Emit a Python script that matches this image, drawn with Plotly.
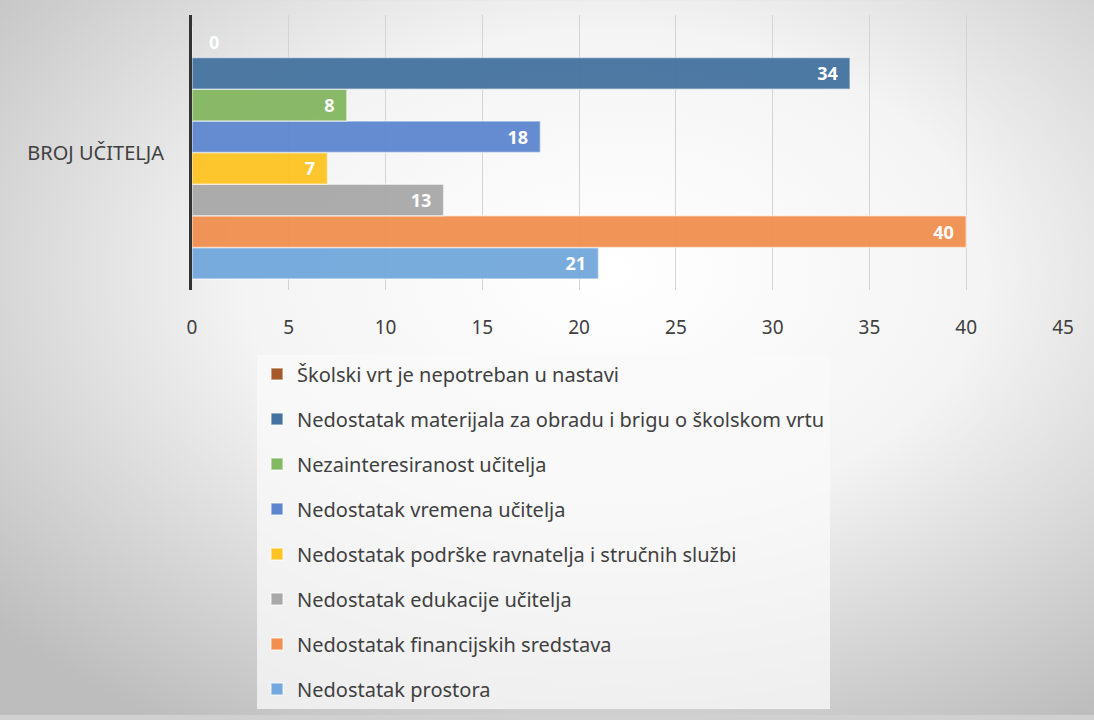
import base64
import plotly.graph_objects as go

category = ["BROJ UČITELJA"]
# listed bottom-to-top (plotly draws first horizontal trace at the bottom)
series_names = [
    "Nedostatak prostora",
    "Nedostatak financijskih sredstava",
    "Nedostatak edukacije učitelja",
    "Nedostatak podrške ravnatelja i stručnih službi",
    "Nedostatak vremena učitelja",
    "Nezainteresiranost učitelja",
    "Nedostatak materijala za obradu i brigu o školskom vrtu",
    "Školski vrt je nepotreban u nastavi",
]
series_values = [21, 40, 13, 7, 18, 8, 34, 0]
series_colors = ["#72A8DC", "#F08F4F", "#A8A8A8", "#FFC423", "#5E86CF", "#84B761", "#44739F", "#A65A2C"]
x_ticks = [0, 5, 10, 15, 20, 25, 30, 35, 40, 45]

FONT = "Noto Sans"

svg = """<svg xmlns='http://www.w3.org/2000/svg' width='1094' height='720'>
<defs><radialGradient id='g' cx='0.56' cy='0.38' r='0.75'>
<stop offset='0' stop-color='#ffffff'/><stop offset='0.45' stop-color='#f4f4f4'/>
<stop offset='1' stop-color='#bdbdbd'/></radialGradient></defs>
<rect width='1094' height='720' fill='url(#g)'/></svg>"""
bg_uri = "data:image/svg+xml;base64," + base64.b64encode(svg.encode()).decode()

n = len(series_names)
fig = go.Figure()
for i, (name, val, col) in enumerate(zip(series_names, series_values, series_colors)):
    fig.add_trace(go.Bar(
        y=category, x=[val], name=name, orientation="h",
        marker=dict(color=col, opacity=0.95, line=dict(color="rgba(255,255,255,0.55)", width=1.5)),
        texttemplate="%{x}\u00a0\u00a0" if val > 0 else "\u00a0\u00a0\u00a0%{x}",
        textposition="inside" if val > 0 else "outside",
        textfont=dict(color="white", size=18, family=FONT, weight="bold"),
        insidetextanchor="end", constraintext="none", cliponaxis=False,
        legendgroup=f"g{i}", legendrank=n - i,
    ))

fig.update_layout(
    width=1094, height=720,
    margin=dict(l=192, r=31, t=15, b=428),
    paper_bgcolor="#d0d0d0", plot_bgcolor="rgba(0,0,0,0)",
    barmode="group", bargap=0.08, bargroupgap=0,
    font=dict(family=FONT, color="#404040"),
    images=[dict(source=bg_uri, xref="paper", yref="paper", x=-192/871, y=1+15/277,
                 sizex=1094/871, sizey=720/277, sizing="stretch", layer="below",
                 xanchor="left", yanchor="top")],
    xaxis=dict(range=[0, 45], tickvals=x_ticks, showgrid=True, gridcolor="#d4d4d4", gridwidth=1,
               zeroline=False, showline=False, tickfont=dict(size=19, color="#404040"),
               ticks="", ticklabelstandoff=24, fixedrange=True),
    yaxis=dict(showline=True, linecolor="#333333", linewidth=3, ticks="",
               tickfont=dict(size=20, color="#404040"), ticklabelstandoff=21),
    legend=dict(x=(257-192)/871, y=(292-357)/277, xanchor="left", yanchor="top",
                traceorder="grouped", tracegroupgap=16,
                bgcolor="rgba(250,250,250,0.75)", font=dict(size=20, color="#404040"),
                itemwidth=30),
    showlegend=True,
)

fig.write_html("out.html", config={"displayModeBar": False},
               post_script="document.body.style.margin='0';")
